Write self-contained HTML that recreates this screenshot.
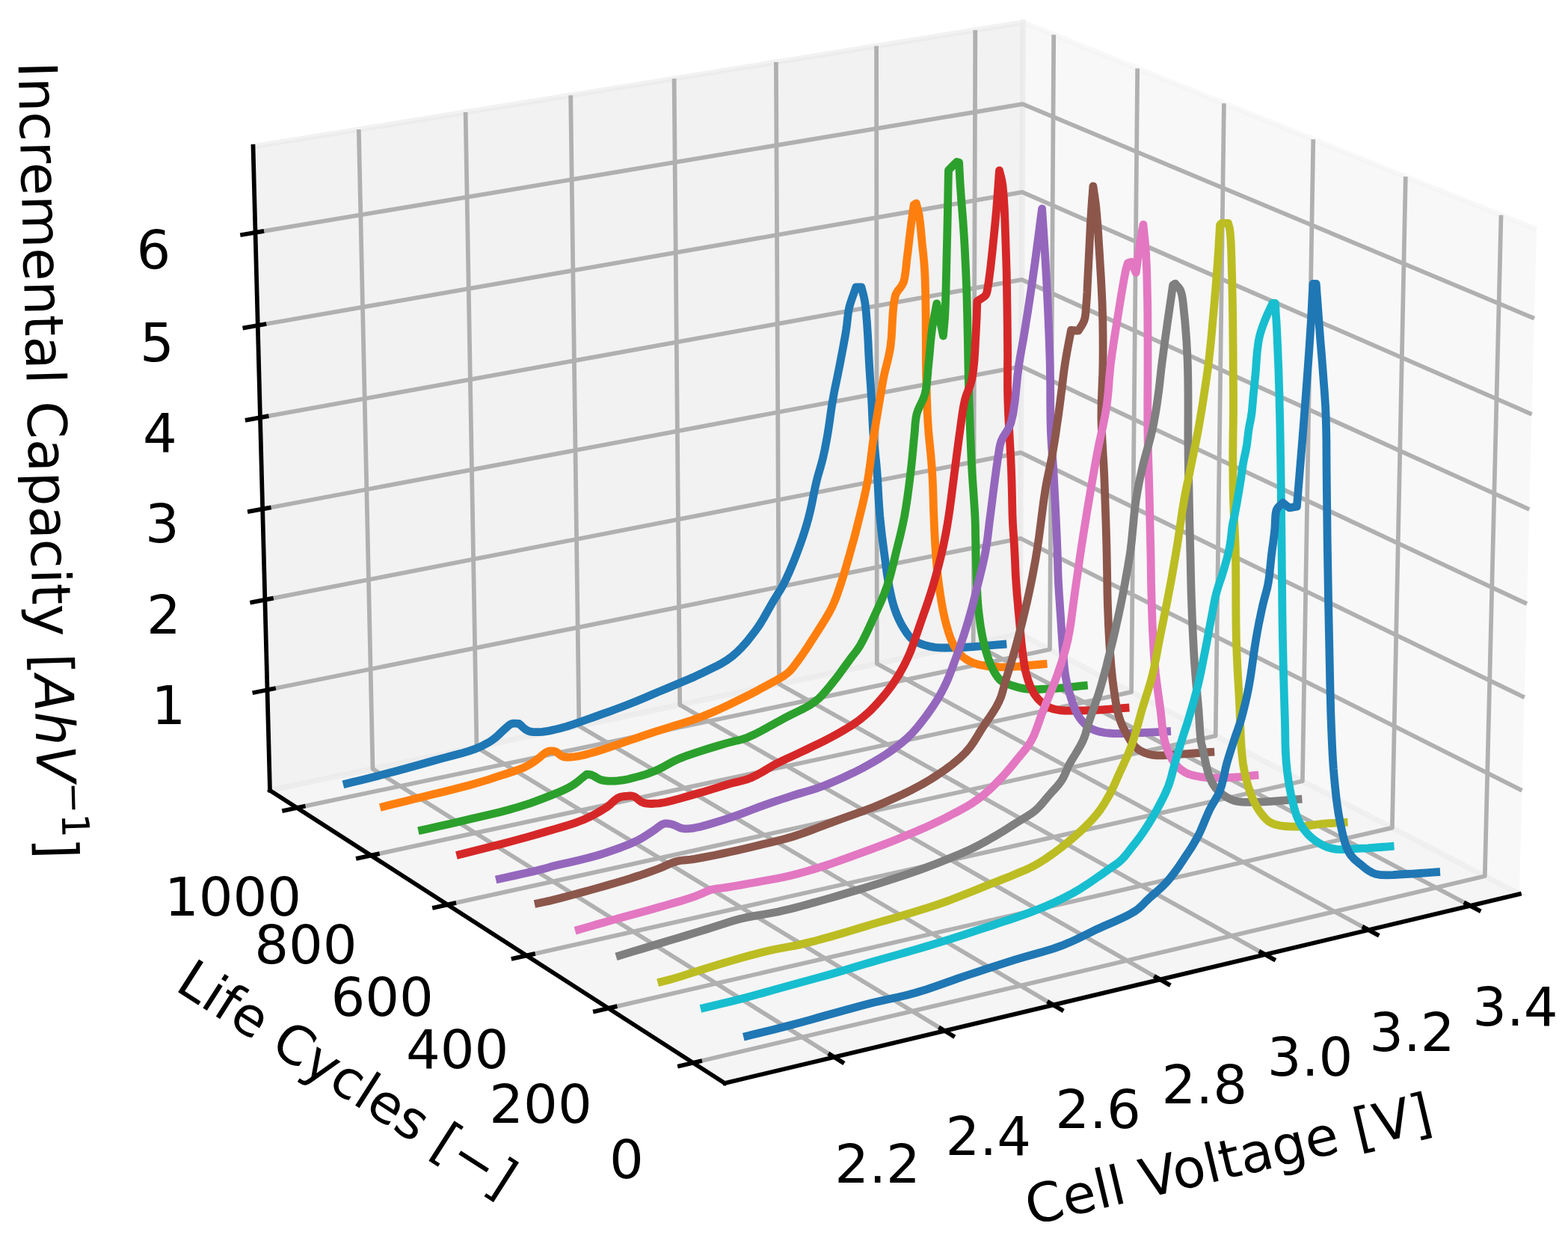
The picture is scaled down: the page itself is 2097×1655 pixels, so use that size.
<!DOCTYPE html>
<html><head><meta charset="utf-8"><title>Incremental capacity 3D plot</title>
<style>html,body{margin:0;padding:0;background:#fff;}svg{display:block;}</style></head>
<body>
<svg xmlns="http://www.w3.org/2000/svg" width="2097" height="1655" viewBox="0 0 2097 1655">
<rect width="2097" height="1655" fill="#fff"/>
<path d="M2031.9,1195.2 L1364.1,847.5 L1368.2,29.9 L2055.0,306.7" fill="rgb(242,242,242)" fill-opacity="0.5" stroke="rgb(242,242,242)" stroke-opacity="0.5" stroke-width="7.2" stroke-linejoin="miter"/>
<path d="M361.0,1056.6 L1364.1,847.5 L1368.2,29.9 L338.5,195.8" fill="rgb(230,230,230)" fill-opacity="0.5" stroke="rgb(230,230,230)" stroke-opacity="0.5" stroke-width="7.2" stroke-linejoin="miter"/>
<path d="M969.3,1448.0 L2031.9,1195.2 L1364.1,847.5 L361.0,1056.6" fill="rgb(236,236,236)" fill-opacity="0.5" stroke="rgb(236,236,236)" stroke-opacity="0.5" stroke-width="7.2" stroke-linejoin="miter"/>
<g fill="none" stroke="#b0b0b0" stroke-width="5.76" stroke-linejoin="round"><polyline points="1115.6,1413.2 498.5,1027.9 479.8,173.0"/><polyline points="1263.4,1378.0 637.5,999.0 622.6,150.0"/><polyline points="1408.7,1343.4 774.4,970.4 763.2,127.4"/><polyline points="1551.5,1309.5 909.2,942.3 901.6,105.1"/><polyline points="1692.0,1276.0 1042.0,914.6 1037.9,83.1"/><polyline points="1830.2,1243.2 1172.8,887.3 1172.1,61.5"/><polyline points="1966.2,1210.8 1301.7,860.5 1304.3,40.2"/><polyline points="2007.5,287.5 1985.8,1171.2 927.1,1420.8"/><polyline points="1879.8,236.1 1861.9,1106.6 813.7,1347.9"/><polyline points="1756.3,186.3 1741.9,1044.2 704.2,1277.5"/><polyline points="1636.9,138.1 1625.7,983.7 598.4,1209.4"/><polyline points="1521.2,91.5 1513.1,925.1 496.1,1143.6"/><polyline points="1409.2,46.4 1404.0,868.2 397.2,1079.9"/><polyline points="357.5,922.3 1364.8,719.7 2035.5,1056.7"/><polyline points="354.3,801.9 1365.3,605.2 2038.8,932.4"/><polyline points="351.2,680.5 1365.9,489.9 2042.0,807.2"/><polyline points="348.0,558.2 1366.5,373.8 2045.3,681.0"/><polyline points="344.7,435.0 1367.1,256.9 2048.6,553.8"/><polyline points="341.5,310.9 1367.7,139.1 2051.9,425.6"/></g>
<g fill="none" stroke="#000" stroke-width="5.76" stroke-linecap="square"><polyline points="969.3,1448.0 2031.9,1195.2"/><polyline points="361.0,1056.6 969.3,1448.0"/><polyline points="361.0,1056.6 338.5,195.8"/><polyline points="1126.5,1420.0 1110.2,1409.8"/><polyline points="1274.4,1384.7 1257.9,1374.7"/><polyline points="1419.8,1350.0 1403.1,1340.2"/><polyline points="1562.8,1315.9 1545.9,1306.2"/><polyline points="1703.4,1282.4 1686.3,1272.9"/><polyline points="1841.8,1249.4 1824.4,1240.0"/><polyline points="1977.8,1217.0 1960.3,1207.7"/><polyline points="909.0,1425.1 936.1,1418.7"/><polyline points="795.9,1352.0 822.6,1345.8"/><polyline points="686.6,1281.4 713.0,1275.5"/><polyline points="581.0,1213.2 607.2,1207.5"/><polyline points="478.9,1147.3 504.8,1141.7"/><polyline points="380.1,1083.5 405.7,1078.1"/><polyline points="340.4,925.7 366.0,920.6"/><polyline points="337.2,805.2 362.9,800.2"/><polyline points="333.9,683.7 359.7,678.9"/><polyline points="330.7,561.4 356.6,556.7"/><polyline points="327.4,438.1 353.4,433.5"/><polyline points="324.1,313.8 350.2,309.4"/></g>
<g fill="none" stroke-width="10.8" stroke-linejoin="round" stroke-linecap="butt"><polyline points="458.9,1048.8 470.8,1045.8 482.7,1042.9 494.6,1039.9 506.5,1036.9 518.5,1033.8 531.1,1030.5 543.8,1027.0 556.5,1023.5 569.1,1020.0 581.4,1016.5 593.0,1013.4 604.8,1010.3 616.3,1007.3 627.0,1004.1 636.4,1000.8 641.9,998.5 646.9,996.1 651.5,993.6 655.8,991.1 659.9,988.3 663.4,985.5 666.7,982.5 669.8,979.5 672.8,976.6 675.6,974.1 677.5,972.5 679.2,970.9 680.9,969.5 682.7,968.3 684.5,967.5 686.3,967.1 688.2,967.1 690.1,967.2 692.1,967.4 694.0,967.5 696.4,969.5 698.7,971.7 701.1,973.8 703.5,975.6 706.1,977.0 708.7,977.9 711.3,978.4 714.0,978.7 716.9,978.7 720.0,978.7 725.0,978.4 730.4,977.7 736.2,976.6 742.2,975.3 748.5,973.8 757.2,971.4 766.6,968.4 776.2,965.0 786.0,961.5 795.6,958.1 805.1,954.7 814.7,951.3 824.3,947.8 833.7,944.3 842.7,940.8 850.3,937.7 857.5,934.7 864.7,931.7 872.1,928.5 880.0,925.1 891.3,920.4 903.7,915.3 916.3,910.1 928.7,904.7 940.0,899.4 948.6,895.2 956.8,891.2 964.6,887.1 972.0,882.6 979.2,877.4 986.2,871.3 992.7,864.7 999.0,857.6 1004.9,850.2 1010.6,842.8 1015.9,835.1 1020.9,827.0 1025.5,818.8 1030.0,810.9 1034.2,803.6 1037.3,798.6 1040.1,794.1 1042.9,789.7 1045.6,785.1 1048.4,780.0 1052.1,772.3 1055.9,763.9 1059.6,755.1 1063.3,746.0 1066.7,737.1 1070.0,728.1 1073.2,719.0 1076.2,709.8 1079.0,700.6 1081.6,691.3 1083.9,681.8 1086.0,672.1 1087.9,662.4 1089.8,653.0 1091.8,644.2 1093.5,637.5 1095.3,631.2 1097.1,625.1 1098.8,619.0 1100.4,612.8 1101.8,606.6 1103.1,600.6 1104.3,594.4 1105.5,588.1 1106.7,581.4 1108.1,572.6 1109.5,563.2 1110.8,553.6 1112.2,543.9 1113.8,534.3 1115.5,524.9 1117.4,515.4 1119.4,506.0 1121.3,496.5 1123.2,487.1 1125.0,477.5 1126.9,467.7 1128.7,458.0 1130.4,448.6 1131.8,440.0 1132.6,433.9 1133.2,428.3 1133.8,422.8 1134.5,417.4 1135.5,412.0 1137.0,406.4 1138.8,400.8 1140.8,395.2 1142.8,389.6 1144.7,384.0 1152.0,384.0 1153.0,387.9 1154.0,391.7 1155.0,395.6 1155.9,399.6 1156.7,404.0 1157.6,410.4 1158.3,417.4 1158.9,424.7 1159.5,432.3 1160.0,440.0 1160.6,449.0 1161.1,458.4 1161.5,468.0 1162.0,477.6 1162.5,487.1 1163.1,496.5 1163.7,506.0 1164.4,515.4 1165.0,524.9 1165.6,534.3 1166.1,543.7 1166.5,553.1 1166.9,562.6 1167.4,572.0 1168.0,581.4 1168.8,590.7 1169.8,599.9 1170.8,609.2 1171.8,618.7 1172.7,628.5 1173.6,640.4 1174.3,652.9 1175.0,665.6 1175.8,678.1 1176.7,690.0 1177.7,699.8 1178.7,709.3 1179.8,718.6 1181.0,727.8 1182.2,737.1 1183.5,746.7 1184.8,756.5 1186.1,766.1 1187.6,775.5 1189.2,784.3 1190.6,791.1 1192.0,797.6 1193.5,803.9 1195.2,809.9 1197.1,815.7 1199.0,820.8 1201.1,825.7 1203.3,830.4 1205.6,835.0 1208.1,839.2 1210.3,842.7 1212.5,846.1 1214.9,849.3 1217.5,852.3 1220.6,854.9 1224.6,857.5 1229.1,859.7 1234.0,861.6 1239.0,863.1 1244.2,864.4 1249.9,865.4 1255.8,865.9 1261.9,866.0 1268.4,866.0 1275.6,865.9 1287.9,865.5 1301.8,864.6 1316.7,863.4 1331.7,862.1 1346.3,861.0" stroke="#1f77b4"/><polyline points="508.3,1079.4 519.7,1076.6 531.1,1073.8 542.6,1070.9 554.1,1068.1 565.7,1065.2 578.3,1062.1 591.3,1059.0 604.2,1055.8 616.7,1052.6 628.5,1049.5 637.5,1046.9 646.0,1044.4 654.3,1041.8 662.2,1039.2 670.0,1036.7 676.8,1034.5 683.5,1032.4 689.9,1030.2 695.9,1028.0 701.4,1025.7 705.0,1023.9 708.2,1022.1 711.2,1020.2 714.1,1018.2 717.1,1016.2 720.3,1013.8 723.5,1011.0 726.7,1008.3 729.8,1006.0 732.8,1004.5 734.8,1004.0 736.6,1003.8 738.5,1003.8 740.3,1004.0 742.2,1004.5 744.4,1005.5 746.5,1007.1 748.6,1008.8 750.8,1010.4 753.2,1011.5 756.0,1012.1 759.0,1012.3 762.2,1012.2 765.5,1011.9 768.9,1011.5 773.7,1010.8 778.8,1009.7 784.1,1008.4 789.7,1006.9 795.6,1005.2 804.3,1002.6 813.9,999.4 823.8,996.0 833.5,992.6 842.7,989.5 849.8,987.1 856.4,984.9 862.9,982.7 869.6,980.4 877.1,977.9 888.6,974.3 901.2,970.4 914.3,966.4 927.5,962.1 940.0,957.5 951.6,952.8 963.2,947.6 974.5,942.4 985.1,937.2 994.9,932.4 1001.4,929.2 1007.3,926.1 1013.0,923.1 1018.5,920.0 1024.2,916.9 1030.2,913.7 1036.4,910.4 1042.5,907.0 1048.1,903.6 1053.0,900.0 1056.1,897.2 1058.7,894.5 1061.0,891.6 1063.4,888.5 1066.0,885.0 1070.3,879.1 1074.9,872.5 1079.7,865.4 1084.5,858.0 1089.2,850.7 1094.1,843.0 1099.2,835.0 1104.2,827.0 1108.8,819.0 1112.8,811.4 1115.5,805.4 1117.8,799.8 1119.9,794.1 1121.9,788.3 1124.0,782.0 1126.7,773.6 1129.5,764.6 1132.2,755.4 1134.9,746.1 1137.4,737.1 1139.6,729.0 1141.8,721.2 1143.9,713.4 1145.9,705.4 1148.0,697.0 1150.5,687.0 1153.0,676.7 1155.5,666.0 1157.9,655.2 1160.1,644.2 1162.1,631.9 1163.9,619.1 1165.5,606.1 1167.1,593.5 1168.8,581.4 1170.4,571.4 1172.0,561.6 1173.6,552.1 1175.1,543.0 1176.6,534.3 1177.7,527.6 1178.8,521.4 1179.8,515.3 1180.9,509.2 1182.1,502.8 1183.7,495.6 1185.5,488.5 1187.4,481.2 1189.1,473.4 1190.7,465.0 1192.2,451.4 1193.1,435.7 1194.0,419.7 1195.3,405.4 1197.5,394.8 1199.0,391.4 1200.8,388.7 1202.6,386.4 1204.3,384.3 1205.7,382.2 1206.5,380.9 1207.1,379.8 1207.7,378.7 1208.3,377.5 1208.8,375.9 1209.9,370.8 1210.9,364.2 1211.8,356.7 1212.6,348.9 1213.5,341.4 1214.5,333.6 1215.4,325.6 1216.3,317.5 1217.3,309.6 1218.2,302.1 1219.0,296.1 1219.8,290.4 1220.6,284.9 1221.4,279.4 1222.2,273.8 1225.3,271.8 1226.1,274.9 1226.9,277.9 1227.7,281.0 1228.5,284.3 1229.2,288.0 1230.2,294.6 1231.0,302.1 1231.8,310.1 1232.5,318.1 1233.2,325.7 1233.9,332.1 1234.6,338.2 1235.2,344.2 1235.8,350.5 1236.3,357.1 1236.8,365.6 1237.2,374.4 1237.4,383.7 1237.7,393.5 1237.9,404.2 1238.1,422.0 1238.2,442.1 1238.3,463.2 1238.4,483.9 1238.7,502.8 1239.0,516.3 1239.4,529.0 1239.8,541.2 1240.3,553.4 1241.0,565.7 1241.9,578.3 1243.1,590.9 1244.4,603.4 1245.5,616.0 1246.5,628.5 1247.2,641.0 1247.7,653.5 1248.1,666.0 1248.4,678.2 1248.9,690.0 1249.3,699.8 1249.7,709.3 1250.2,718.6 1250.7,727.8 1251.3,737.1 1252.0,746.5 1252.8,756.0 1253.7,765.4 1254.8,774.9 1256.0,784.3 1257.4,793.9 1258.9,803.7 1260.6,813.3 1262.5,822.6 1264.6,831.4 1266.5,838.3 1268.5,845.1 1270.6,851.5 1273.0,857.4 1275.6,862.8 1277.8,866.5 1280.1,869.9 1282.6,873.0 1285.3,875.9 1288.2,878.5 1291.5,880.9 1295.0,883.0 1298.8,884.9 1302.8,886.5 1307.0,887.9 1312.5,889.3 1318.4,890.3 1324.7,891.1 1331.4,891.5 1338.5,891.8 1349.6,891.7 1361.8,890.9 1374.7,889.7 1387.8,888.5 1400.5,887.4" stroke="#ff7f0e"/><polyline points="559.4,1110.8 573.3,1107.7 587.2,1104.6 601.1,1101.4 614.9,1098.3 628.5,1095.1 641.5,1092.0 654.5,1089.0 667.3,1085.9 679.7,1082.7 691.3,1079.4 700.3,1076.6 708.9,1073.8 717.1,1070.9 725.1,1067.9 732.8,1064.9 739.5,1062.2 746.1,1059.6 752.5,1056.8 758.5,1053.9 764.2,1050.8 768.7,1047.9 772.8,1044.8 776.7,1041.5 780.6,1038.3 784.6,1035.1 785.8,1035.2 787.0,1035.3 788.2,1035.4 789.5,1035.6 790.9,1035.9 793.3,1036.9 796.0,1038.5 798.8,1040.2 801.8,1041.8 805.0,1042.9 809.0,1043.7 813.2,1044.1 817.7,1044.2 822.3,1044.1 827.0,1043.7 833.1,1042.9 839.5,1041.7 846.1,1040.1 852.5,1038.4 858.5,1036.7 863.1,1035.3 867.3,1033.9 871.5,1032.3 875.6,1030.7 880.0,1028.8 885.3,1026.2 890.6,1023.3 896.0,1020.2 901.9,1017.1 908.5,1014.1 919.8,1009.8 933.0,1005.3 946.7,1001.0 960.0,997.0 971.4,993.6 977.7,991.9 983.3,990.6 988.7,989.4 994.1,987.9 1000.0,985.8 1009.0,981.8 1018.7,976.8 1028.7,971.3 1038.7,965.7 1048.3,960.4 1057.2,955.9 1066.2,951.5 1075.0,947.1 1083.3,942.5 1090.6,937.5 1095.8,933.1 1100.3,928.4 1104.5,923.6 1108.6,918.7 1112.8,913.5 1117.7,907.4 1122.6,900.9 1127.4,894.3 1132.0,888.0 1136.3,882.1 1139.3,878.1 1142.1,874.5 1144.8,871.0 1147.4,867.4 1150.0,863.3 1153.2,857.6 1156.3,851.5 1159.4,845.1 1162.5,838.4 1165.7,831.4 1169.8,822.6 1174.1,813.3 1178.4,803.7 1182.5,794.0 1186.1,784.3 1189.1,774.9 1191.7,765.5 1194.1,756.0 1196.4,746.6 1198.7,737.1 1201.0,727.8 1203.3,718.6 1205.5,709.3 1207.6,699.9 1209.6,690.0 1211.6,678.1 1213.5,665.6 1215.2,652.9 1216.8,640.4 1218.2,628.5 1219.3,618.5 1220.3,608.6 1221.2,599.1 1222.0,590.0 1222.9,581.4 1223.4,575.3 1223.8,569.5 1224.3,563.9 1225.0,558.5 1226.1,553.1 1227.9,547.7 1230.2,542.6 1232.8,537.4 1235.2,532.1 1237.1,526.4 1238.6,519.2 1239.6,511.5 1240.4,503.5 1241.0,495.3 1241.8,487.1 1242.7,477.8 1243.6,468.2 1244.4,458.5 1245.4,449.0 1246.5,440.0 1247.6,432.8 1248.9,425.9 1250.2,419.2 1251.5,412.5 1252.8,405.8 1261.4,449.0 1261.9,443.4 1262.4,438.0 1262.9,432.6 1263.4,426.6 1263.8,419.9 1264.4,406.9 1264.9,392.0 1265.3,375.7 1265.7,358.6 1266.1,341.4 1266.6,320.0 1267.1,297.4 1267.6,274.1 1268.0,250.6 1268.5,227.5 1279.5,216.5 1282.6,217.3 1282.9,223.1 1283.2,228.7 1283.5,234.4 1283.8,240.4 1284.2,247.1 1285.0,258.2 1285.9,270.6 1287.0,283.7 1288.0,297.0 1288.9,310.0 1289.7,322.7 1290.4,335.5 1291.0,348.3 1291.6,360.8 1292.1,372.8 1292.5,382.3 1292.8,391.2 1293.1,400.0 1293.3,409.4 1293.6,420.0 1294.0,439.9 1294.5,462.7 1294.9,487.0 1295.4,511.4 1296.0,534.3 1296.7,554.0 1297.4,573.6 1298.2,592.7 1299.0,611.1 1299.9,628.5 1300.7,641.6 1301.6,654.0 1302.4,666.0 1303.2,677.9 1303.9,690.0 1304.4,702.5 1304.6,715.1 1304.9,727.6 1305.1,740.2 1305.5,752.8 1305.9,765.5 1306.3,778.4 1306.8,791.2 1307.5,803.7 1308.6,815.7 1309.8,825.7 1311.1,835.6 1312.7,845.0 1314.5,854.2 1316.5,862.8 1318.4,869.7 1320.4,876.5 1322.6,882.9 1325.0,888.8 1327.5,894.2 1329.5,898.0 1331.7,901.6 1333.9,904.8 1336.2,907.6 1338.5,909.9 1340.0,911.0 1341.4,911.8 1342.8,912.5 1344.4,913.1 1346.3,913.8 1350.3,915.3 1355.1,916.9 1360.4,918.5 1365.9,919.9 1371.4,920.9 1377.3,921.5 1383.3,921.6 1389.5,921.5 1396.0,921.2 1402.8,920.9 1412.4,920.3 1422.6,919.4 1433.3,918.3 1444.1,917.1 1454.7,916.1" stroke="#2ca02c"/><polyline points="610.4,1143.5 622.3,1140.5 634.2,1137.6 646.1,1134.6 658.0,1131.6 670.0,1128.5 682.6,1125.1 695.5,1121.6 708.3,1118.1 720.8,1114.5 732.8,1111.0 742.8,1108.1 752.7,1105.2 762.2,1102.4 771.3,1099.3 779.9,1096.0 786.9,1092.9 793.6,1089.5 800.0,1086.0 805.9,1082.5 811.3,1079.1 814.9,1076.4 818.1,1073.5 821.1,1070.7 824.0,1068.3 827.0,1066.5 829.3,1065.6 831.5,1065.1 833.7,1064.7 835.9,1064.5 838.0,1064.3 839.9,1064.1 841.8,1064.0 843.7,1064.0 845.6,1064.1 847.5,1064.6 849.9,1065.8 852.2,1067.7 854.6,1069.7 857.2,1071.6 860.0,1073.0 863.7,1073.9 867.7,1074.4 871.9,1074.5 876.5,1074.2 881.4,1073.8 889.7,1072.5 899.0,1070.3 908.8,1067.6 918.8,1064.8 928.5,1062.0 938.1,1059.3 947.9,1056.3 957.6,1053.3 966.9,1050.5 975.6,1047.9 981.7,1046.3 987.3,1044.9 992.8,1043.6 998.2,1042.1 1003.9,1040.0 1010.9,1036.7 1018.1,1032.8 1025.3,1028.5 1032.6,1024.1 1040.0,1020.1 1047.6,1016.4 1055.2,1012.8 1062.9,1009.3 1070.7,1005.7 1078.5,1002.0 1086.8,997.9 1095.4,993.8 1103.9,989.6 1112.2,985.3 1120.0,981.0 1126.5,977.3 1132.7,973.6 1138.7,969.9 1144.4,966.1 1150.0,962.0 1155.0,957.9 1159.8,953.7 1164.5,949.4 1169.0,944.8 1173.5,940.0 1178.4,934.4 1183.4,928.5 1188.2,922.4 1192.8,916.2 1197.1,909.9 1200.9,903.9 1204.5,897.9 1207.9,891.7 1211.2,885.3 1214.4,878.5 1218.1,869.8 1221.6,860.4 1225.0,850.8 1228.3,841.0 1231.6,831.4 1234.9,822.0 1238.2,812.6 1241.4,803.2 1244.5,793.8 1247.4,784.3 1250.2,774.9 1252.8,765.3 1255.3,755.8 1257.7,746.4 1259.9,737.1 1261.8,728.7 1263.4,720.7 1265.0,712.6 1266.5,704.2 1268.0,695.0 1270.1,681.2 1272.1,666.0 1274.1,650.2 1276.1,634.8 1277.9,620.7 1279.2,610.5 1280.5,600.8 1281.7,591.5 1282.9,582.5 1284.2,573.5 1285.3,565.3 1286.4,557.2 1287.6,549.3 1288.9,541.6 1290.5,534.3 1292.2,528.5 1294.3,523.2 1296.4,518.0 1298.3,512.4 1300.0,506.0 1301.8,494.3 1303.1,480.8 1304.0,466.4 1304.7,452.5 1305.4,440.0 1305.8,431.8 1306.2,424.3 1306.4,417.1 1306.6,409.9 1306.9,402.6 1309.3,401.1 1311.8,399.5 1314.2,398.0 1316.4,396.4 1318.0,394.8 1318.7,393.7 1319.2,392.7 1319.6,391.6 1319.9,390.3 1320.3,388.5 1322.3,376.5 1324.7,358.0 1327.1,336.1 1329.4,313.8 1331.3,294.2 1332.6,280.2 1333.6,266.8 1334.6,253.8 1335.5,240.9 1336.5,227.8 1337.4,231.4 1338.3,234.8 1339.2,238.3 1340.0,242.3 1340.8,247.1 1342.2,261.2 1343.3,279.1 1344.1,299.5 1344.8,320.7 1345.5,341.4 1346.2,364.7 1346.6,389.2 1347.0,413.9 1347.3,437.8 1347.5,460.0 1347.6,475.8 1347.5,490.5 1347.5,504.8 1347.5,519.2 1347.8,534.3 1348.5,552.6 1349.5,571.8 1350.6,591.2 1351.7,610.3 1352.5,628.5 1353.0,643.9 1353.4,659.3 1353.7,674.1 1354.0,687.8 1354.5,700.0 1354.9,706.7 1355.3,712.6 1355.7,718.1 1356.1,723.8 1356.5,730.0 1356.9,738.7 1357.4,748.1 1357.8,757.8 1358.2,767.5 1358.8,777.1 1359.5,786.5 1360.2,796.0 1361.1,805.4 1361.9,814.9 1362.8,824.3 1363.7,833.9 1364.5,843.6 1365.4,853.3 1366.4,862.6 1367.5,871.4 1368.4,878.2 1369.3,884.7 1370.3,890.9 1371.5,897.0 1373.0,902.8 1374.5,907.9 1376.2,912.9 1378.0,917.7 1380.1,922.2 1382.4,926.4 1384.6,929.7 1387.0,932.8 1389.5,935.6 1392.2,938.2 1395.0,940.5 1397.8,942.5 1400.6,944.3 1403.6,945.8 1407.0,947.2 1410.7,948.3 1417.2,949.5 1424.7,950.0 1432.8,950.1 1441.3,950.0 1450.0,949.9 1461.3,949.5 1473.2,948.8 1485.6,947.9 1498.1,946.9 1510.4,946.0" stroke="#d62728"/><polyline points="663.1,1176.0 675.6,1173.2 688.7,1170.4 701.5,1167.5 713.2,1164.9 722.8,1162.6 726.7,1161.6 729.9,1160.7 732.9,1159.8 736.1,1158.9 740.0,1157.8 749.6,1155.5 761.3,1152.9 774.1,1150.0 787.0,1146.8 799.0,1143.5 809.8,1140.1 820.7,1136.4 831.3,1132.6 841.2,1128.7 850.0,1124.8 855.5,1122.0 860.5,1119.1 865.0,1116.2 869.4,1113.4 873.5,1110.7 876.6,1108.5 879.5,1106.3 882.2,1104.2 885.0,1102.4 887.7,1101.3 889.9,1100.9 892.1,1100.9 894.2,1101.1 896.4,1101.5 898.7,1102.0 901.4,1102.9 904.2,1104.1 907.0,1105.5 909.9,1106.7 912.8,1107.5 915.7,1107.8 918.6,1107.9 921.6,1107.7 924.8,1107.4 928.5,1106.8 936.3,1105.2 945.6,1102.7 955.6,1099.8 965.8,1096.6 975.6,1093.4 985.2,1090.1 994.8,1086.6 1004.3,1083.0 1013.7,1079.4 1022.8,1076.1 1030.5,1073.4 1037.9,1070.9 1045.1,1068.5 1052.5,1066.1 1060.0,1063.6 1068.3,1061.0 1076.6,1058.6 1085.0,1056.1 1093.8,1053.3 1102.8,1050.0 1114.9,1045.0 1127.7,1039.4 1140.9,1033.2 1153.7,1026.7 1165.7,1020.1 1176.0,1014.0 1185.9,1007.7 1195.4,1001.2 1204.4,994.3 1212.8,987.1 1220.0,980.0 1226.7,972.5 1232.9,964.7 1238.8,957.0 1244.2,949.4 1248.5,943.1 1252.5,936.9 1256.2,930.7 1259.7,924.4 1263.1,917.8 1266.6,910.4 1269.8,902.7 1272.8,894.8 1275.8,886.7 1278.8,878.5 1282.1,869.4 1285.3,860.0 1288.5,850.5 1291.6,840.9 1294.5,831.4 1297.2,822.0 1299.8,812.6 1302.3,803.2 1304.6,793.7 1307.0,784.3 1309.4,774.9 1311.7,765.5 1314.0,756.0 1316.1,746.6 1318.0,737.1 1319.5,727.9 1320.8,718.8 1321.9,709.7 1323.0,700.2 1324.3,690.0 1326.2,675.1 1328.3,658.3 1330.5,641.4 1332.6,625.7 1334.5,612.8 1335.4,607.2 1336.1,602.3 1336.8,597.9 1337.8,593.6 1339.2,589.2 1341.3,584.7 1343.9,580.5 1346.7,576.2 1349.4,571.4 1351.8,565.7 1354.9,552.7 1357.2,536.6 1359.1,519.1 1360.8,502.0 1362.7,487.1 1364.2,478.0 1365.6,469.9 1367.0,462.1 1368.5,454.0 1370.0,445.0 1372.1,431.7 1374.4,417.4 1376.7,402.4 1379.0,387.0 1381.3,371.4 1383.8,353.6 1386.2,335.2 1388.7,316.5 1391.1,297.6 1393.6,279.0 1394.8,297.3 1396.0,315.5 1397.2,333.7 1398.3,352.3 1399.4,371.4 1400.5,393.6 1401.6,416.6 1402.6,440.0 1403.5,463.0 1404.2,485.0 1404.5,503.8 1404.7,522.2 1404.7,540.2 1404.9,557.6 1405.3,574.3 1405.9,587.3 1406.7,599.6 1407.6,611.5 1408.5,623.8 1409.3,637.1 1410.3,655.9 1411.4,676.7 1412.4,697.7 1413.3,717.7 1414.0,735.0 1414.3,744.5 1414.6,753.0 1414.8,760.9 1415.0,768.8 1415.4,777.1 1415.9,786.4 1416.5,795.8 1417.2,805.3 1417.8,814.8 1418.5,824.3 1419.1,833.9 1419.7,843.6 1420.4,853.3 1421.0,862.6 1421.7,871.4 1422.2,878.1 1422.7,884.4 1423.2,890.6 1423.9,896.6 1424.8,902.8 1426.0,909.2 1427.4,915.6 1429.0,922.0 1430.8,928.2 1432.7,934.2 1434.6,939.6 1436.5,945.0 1438.6,950.2 1441.0,955.1 1443.7,959.5 1446.4,963.0 1449.3,966.2 1452.5,969.2 1455.8,971.8 1459.4,974.0 1463.3,975.9 1467.4,977.3 1471.7,978.4 1476.3,979.3 1481.4,980.0 1489.7,980.6 1499.2,980.7 1509.2,980.3 1519.1,979.9 1528.5,979.5 1536.3,979.2 1543.8,978.8 1551.2,978.4 1558.6,977.9 1566.0,977.5" stroke="#9467bd"/><polyline points="714.9,1208.5 719.7,1207.5 724.4,1206.5 729.2,1205.5 734.3,1204.4 740.0,1203.0 750.9,1200.2 763.5,1196.9 777.0,1193.3 790.4,1189.6 802.8,1186.1 812.8,1183.2 822.7,1180.4 832.2,1177.6 841.3,1174.8 850.0,1172.0 856.8,1169.8 863.3,1167.6 869.5,1165.4 875.5,1163.2 881.4,1161.0 886.3,1159.0 891.0,1156.9 895.6,1154.8 900.2,1153.0 904.9,1151.5 909.4,1150.5 913.9,1150.0 918.5,1149.6 923.3,1149.1 928.5,1148.4 936.9,1146.9 946.2,1145.1 956.0,1143.2 965.9,1141.1 975.6,1139.0 985.1,1136.9 994.8,1134.7 1004.3,1132.5 1013.7,1130.2 1022.8,1128.0 1030.4,1126.2 1037.6,1124.5 1044.8,1122.7 1052.1,1120.8 1060.0,1118.5 1070.9,1114.9 1082.4,1110.8 1094.4,1106.3 1106.5,1101.6 1118.5,1097.1 1131.0,1092.6 1143.6,1088.1 1156.2,1083.5 1168.9,1078.7 1181.4,1073.5 1194.3,1067.8 1207.2,1061.9 1220.0,1055.6 1232.4,1049.0 1244.2,1042.1 1254.6,1035.4 1264.8,1028.4 1274.4,1021.2 1283.4,1013.7 1291.3,1006.0 1297.0,999.3 1301.9,992.4 1306.3,985.4 1310.5,978.4 1314.9,971.4 1319.4,964.7 1324.0,958.1 1328.4,951.5 1332.5,944.8 1336.0,938.0 1338.6,931.8 1340.6,925.6 1342.3,919.3 1344.1,912.8 1346.0,906.0 1348.7,897.3 1351.5,888.3 1354.3,878.8 1357.2,869.1 1360.0,859.0 1363.3,846.4 1366.7,833.2 1370.0,819.5 1373.2,806.0 1376.1,792.8 1378.6,781.2 1380.8,769.9 1382.9,758.7 1385.0,747.2 1387.0,735.0 1389.4,719.1 1391.6,702.1 1393.8,684.7 1396.0,668.0 1398.3,652.8 1400.2,642.6 1402.1,633.3 1404.0,624.4 1405.9,615.4 1407.7,605.7 1409.7,593.7 1411.7,581.1 1413.5,568.2 1415.4,555.4 1417.1,542.8 1418.6,531.0 1420.1,519.1 1421.5,507.4 1422.9,496.0 1424.5,485.0 1426.0,475.9 1427.6,467.1 1429.2,458.5 1430.9,449.9 1432.5,441.3 1442.3,442.1 1443.9,439.3 1445.7,436.5 1447.4,433.8 1448.9,430.9 1450.1,427.9 1451.0,424.8 1451.5,421.6 1451.9,418.4 1452.1,414.7 1452.5,410.6 1453.2,401.7 1453.9,391.0 1454.4,379.4 1455.0,367.4 1455.6,355.7 1456.2,343.2 1456.9,330.3 1457.5,317.4 1458.1,304.7 1458.8,292.8 1459.4,283.5 1460.0,274.7 1460.6,266.1 1461.3,257.6 1461.9,248.9 1462.7,254.4 1463.5,259.6 1464.3,265.0 1465.1,270.7 1465.8,277.1 1466.8,288.0 1467.8,300.1 1468.8,313.1 1469.6,326.6 1470.5,340.0 1471.4,355.2 1472.4,371.1 1473.2,387.1 1474.0,403.1 1474.5,418.5 1474.8,432.1 1475.0,445.3 1475.1,458.4 1475.1,471.6 1475.0,485.0 1474.7,499.4 1474.1,514.0 1473.5,528.7 1473.0,543.6 1472.9,558.5 1473.3,573.9 1474.1,589.3 1475.0,604.9 1476.0,620.8 1476.8,637.1 1477.5,656.2 1478.2,676.2 1478.9,696.3 1479.5,716.1 1480.0,735.0 1480.3,750.5 1480.6,765.4 1480.8,780.0 1481.0,794.3 1481.4,808.5 1481.9,821.5 1482.4,834.5 1483.0,847.1 1483.7,859.5 1484.5,871.4 1485.3,881.3 1486.1,890.9 1487.0,900.3 1488.0,909.5 1489.2,918.5 1490.4,926.8 1491.6,935.2 1493.0,943.3 1494.6,951.0 1496.5,958.0 1498.1,962.9 1499.8,967.4 1501.7,971.7 1503.8,975.9 1506.0,980.0 1508.4,984.3 1510.9,988.7 1513.7,992.9 1516.7,996.7 1520.0,1000.0 1523.5,1002.6 1527.2,1004.7 1531.2,1006.5 1535.5,1008.0 1540.1,1009.1 1547.1,1009.9 1554.9,1009.9 1563.3,1009.4 1571.7,1008.7 1580.1,1008.1 1588.8,1007.6 1597.6,1007.0 1606.5,1006.4 1615.3,1005.7 1624.2,1005.1" stroke="#8c564b"/><polyline points="769.1,1244.2 778.9,1241.4 788.6,1238.6 798.3,1235.8 808.2,1233.0 818.5,1230.1 830.7,1226.7 843.6,1223.2 856.5,1219.7 869.3,1216.2 881.4,1212.8 891.5,1209.9 901.5,1207.0 911.2,1204.2 920.3,1201.4 928.5,1198.7 933.8,1196.6 938.8,1194.5 943.4,1192.4 947.8,1190.6 952.1,1189.2 955.3,1188.5 958.2,1188.0 961.1,1187.7 964.2,1187.4 967.8,1186.9 974.6,1185.8 982.4,1184.5 990.7,1183.1 999.4,1181.5 1008.0,1180.0 1017.5,1178.3 1027.4,1176.5 1037.3,1174.7 1047.3,1172.7 1057.1,1170.5 1067.1,1168.0 1077.4,1165.1 1087.4,1162.2 1096.6,1159.4 1104.2,1157.0 1107.4,1156.0 1110.0,1155.1 1112.4,1154.3 1115.0,1153.3 1118.5,1152.1 1130.5,1147.8 1146.3,1142.1 1164.2,1135.6 1182.1,1128.9 1198.5,1122.5 1211.7,1117.1 1224.6,1111.7 1237.1,1106.3 1249.3,1100.7 1261.0,1095.0 1271.2,1089.8 1281.2,1084.6 1290.9,1079.3 1300.0,1073.8 1308.5,1068.0 1315.3,1062.8 1321.5,1057.3 1327.5,1051.7 1333.1,1046.1 1338.5,1040.5 1343.2,1035.5 1347.6,1030.5 1351.8,1025.5 1355.9,1020.5 1360.0,1015.4 1364.1,1010.5 1368.1,1005.7 1372.1,1000.8 1375.8,995.6 1379.3,990.0 1382.9,982.8 1386.0,974.9 1389.0,966.7 1391.9,958.3 1395.0,949.9 1398.7,940.7 1402.6,931.4 1406.5,921.9 1410.3,912.3 1413.8,902.8 1417.0,893.5 1420.1,884.4 1422.9,875.1 1425.6,865.6 1428.0,855.7 1430.3,843.7 1432.3,831.2 1434.0,818.3 1435.7,805.4 1437.4,792.8 1439.1,780.8 1440.8,768.9 1442.5,757.0 1444.2,745.1 1446.0,733.0 1448.0,720.2 1450.0,707.3 1452.1,694.3 1454.2,681.4 1456.4,668.5 1458.5,655.9 1460.7,643.3 1462.9,630.8 1465.1,618.2 1467.4,605.7 1469.9,593.1 1472.7,580.4 1475.4,567.8 1477.9,555.2 1480.0,542.8 1481.4,531.2 1482.5,519.7 1483.3,508.3 1484.3,496.8 1485.5,485.0 1487.3,471.9 1489.3,458.4 1491.4,444.9 1493.6,431.5 1495.7,418.5 1497.6,406.5 1499.6,394.2 1501.6,382.3 1503.5,371.8 1505.1,363.5 1505.8,360.6 1506.4,358.1 1507.0,356.0 1507.6,353.9 1508.2,351.7 1513.0,350.2 1519.2,364.6 1520.3,356.4 1521.4,347.9 1522.5,339.6 1523.6,331.6 1524.7,324.2 1525.6,319.0 1526.4,314.1 1527.3,309.5 1528.1,304.9 1529.0,300.2 1529.7,308.0 1530.5,315.7 1531.3,323.4 1532.0,331.5 1532.6,340.0 1533.2,351.5 1533.7,363.7 1534.0,376.4 1534.3,389.5 1534.6,402.8 1534.8,418.5 1534.9,434.7 1535.0,451.3 1535.0,468.2 1535.0,485.0 1535.0,502.6 1534.9,520.3 1534.8,538.2 1534.8,556.2 1534.9,574.3 1535.2,593.2 1535.7,612.6 1536.3,631.9 1536.8,650.7 1537.3,668.5 1537.6,682.5 1537.9,695.8 1538.2,708.7 1538.5,721.7 1538.8,735.0 1539.1,749.4 1539.3,764.0 1539.5,778.7 1539.9,793.6 1540.3,808.5 1540.8,824.2 1541.4,840.2 1542.2,856.2 1543.1,871.9 1544.2,887.1 1545.5,900.4 1547.1,913.4 1548.8,926.1 1550.5,938.4 1552.1,949.9 1553.1,958.6 1553.9,967.0 1554.8,975.1 1555.9,982.7 1557.5,990.0 1559.1,995.8 1561.0,1001.3 1563.0,1006.6 1565.4,1011.5 1568.1,1016.1 1570.8,1019.9 1573.7,1023.4 1576.9,1026.7 1580.3,1029.6 1584.1,1032.1 1588.6,1034.3 1593.6,1036.0 1598.9,1037.3 1604.4,1038.3 1610.2,1039.1 1617.7,1039.8 1625.7,1039.9 1634.0,1039.8 1642.3,1039.5 1650.2,1039.1 1657.0,1038.7 1663.7,1038.1 1670.2,1037.4 1676.7,1036.7 1683.3,1036.1" stroke="#e377c2"/><polyline points="824.0,1278.8 835.4,1275.4 846.8,1271.9 858.3,1268.5 869.8,1265.0 881.4,1261.5 893.9,1257.7 906.8,1253.8 919.6,1250.0 932.2,1246.2 944.2,1242.5 954.0,1239.4 963.5,1236.3 972.7,1233.3 981.9,1230.5 991.3,1228.0 1001.0,1225.9 1010.9,1224.1 1020.8,1222.5 1030.6,1220.8 1040.0,1219.0 1048.3,1217.1 1056.3,1215.2 1064.2,1213.2 1072.1,1211.1 1080.0,1209.0 1087.9,1206.8 1095.8,1204.6 1103.7,1202.4 1111.7,1200.1 1119.9,1197.7 1129.0,1195.0 1138.3,1192.3 1147.8,1189.5 1157.4,1186.6 1167.0,1183.6 1177.5,1180.3 1188.3,1176.8 1199.2,1173.3 1209.8,1169.8 1220.0,1166.3 1228.6,1163.3 1236.9,1160.3 1245.0,1157.2 1253.0,1154.2 1261.0,1151.0 1269.0,1147.8 1277.0,1144.5 1284.9,1141.2 1292.6,1137.8 1300.0,1134.3 1306.3,1131.2 1312.4,1128.0 1318.4,1124.7 1324.3,1121.4 1330.2,1118.0 1336.3,1114.4 1342.5,1110.6 1348.6,1106.7 1354.6,1102.9 1360.4,1099.2 1365.5,1096.1 1370.5,1093.1 1375.4,1090.1 1380.1,1087.0 1384.6,1083.5 1388.8,1079.6 1392.8,1075.3 1396.6,1070.8 1400.3,1066.3 1404.0,1062.0 1407.4,1058.2 1410.8,1054.5 1414.1,1050.8 1417.2,1047.0 1420.0,1043.0 1422.3,1039.0 1424.2,1035.0 1426.0,1030.8 1427.8,1026.5 1430.0,1022.0 1433.4,1015.9 1437.4,1009.5 1441.4,1002.9 1445.2,996.3 1448.4,990.0 1450.4,985.1 1451.9,980.5 1453.2,975.8 1454.6,971.0 1456.2,965.6 1459.0,957.2 1462.3,947.9 1465.6,938.1 1469.0,928.2 1472.0,918.5 1474.7,909.1 1477.3,899.7 1479.8,890.3 1482.1,880.8 1484.5,871.4 1486.8,862.0 1489.1,852.6 1491.3,843.2 1493.4,833.7 1495.5,824.3 1497.5,814.8 1499.5,805.3 1501.4,795.8 1503.2,786.4 1504.9,777.1 1506.4,768.7 1507.9,760.6 1509.3,752.4 1510.7,744.0 1512.0,735.0 1513.5,722.5 1514.8,708.9 1516.1,695.0 1517.5,681.3 1519.2,668.5 1520.9,658.5 1522.6,649.0 1524.5,639.8 1526.6,630.7 1528.7,621.4 1531.1,612.0 1533.7,602.6 1536.4,593.2 1538.9,583.7 1541.2,574.3 1543.1,564.9 1544.8,555.3 1546.4,545.8 1547.8,536.4 1549.1,527.1 1550.2,518.7 1551.1,510.6 1552.0,502.4 1552.9,494.0 1554.0,485.0 1555.7,472.4 1557.5,458.6 1559.5,444.5 1561.4,430.8 1563.2,418.5 1564.4,410.3 1565.5,402.7 1566.6,395.4 1567.6,388.2 1568.7,380.8 1571.9,379.2 1573.3,381.0 1574.8,382.7 1576.3,384.4 1577.7,386.3 1578.9,388.7 1580.4,393.3 1581.4,398.7 1582.2,404.9 1582.9,411.5 1583.6,418.5 1584.8,429.8 1585.8,442.2 1586.8,455.7 1587.6,470.0 1588.3,485.0 1588.8,506.8 1589.0,530.5 1589.0,555.4 1588.9,580.7 1589.1,605.7 1589.5,631.9 1590.1,658.8 1590.6,685.7 1591.2,711.4 1591.8,735.0 1592.2,751.0 1592.5,765.8 1592.8,779.9 1593.2,794.0 1593.7,808.5 1594.3,824.2 1595.0,840.2 1595.8,856.2 1596.6,871.9 1597.6,887.1 1598.6,900.4 1599.7,913.4 1600.9,926.2 1602.0,938.4 1603.0,950.0 1603.6,959.0 1604.2,967.9 1604.7,976.4 1605.3,983.9 1606.0,990.0 1606.4,992.3 1606.8,994.2 1607.2,995.9 1607.6,997.7 1608.2,1000.0 1609.6,1006.6 1611.4,1015.1 1613.4,1024.2 1615.7,1032.9 1618.2,1040.1 1619.9,1043.9 1621.6,1047.3 1623.5,1050.4 1625.6,1053.3 1628.2,1056.1 1631.8,1059.4 1635.9,1062.7 1640.5,1065.7 1645.3,1068.2 1650.2,1070.2 1655.6,1071.5 1661.3,1072.2 1667.2,1072.3 1673.5,1072.3 1680.3,1072.2 1691.1,1071.9 1703.2,1071.2 1715.9,1070.2 1728.8,1069.1 1741.4,1068.2" stroke="#7f7f7f"/><polyline points="879.6,1313.7 883.5,1312.7 887.2,1311.8 891.1,1310.8 895.2,1309.7 900.0,1308.4 910.4,1305.3 922.6,1301.4 936.0,1297.1 949.7,1292.8 962.8,1288.8 975.5,1285.1 988.3,1281.4 1001.1,1277.8 1013.7,1274.5 1025.7,1271.5 1035.5,1269.3 1045.0,1267.5 1054.3,1265.8 1063.5,1264.1 1072.8,1262.1 1082.2,1259.8 1091.7,1257.4 1101.1,1254.8 1110.5,1252.2 1119.9,1249.5 1129.4,1246.8 1138.9,1243.9 1148.3,1241.0 1157.7,1238.2 1167.0,1235.4 1175.7,1232.9 1184.1,1230.5 1192.6,1228.1 1201.2,1225.6 1210.0,1223.0 1220.2,1219.9 1230.6,1216.7 1241.2,1213.4 1251.9,1209.9 1262.8,1206.1 1275.1,1201.5 1287.9,1196.5 1300.7,1191.4 1312.9,1186.4 1324.0,1182.0 1331.3,1179.2 1338.0,1176.6 1344.4,1174.1 1350.6,1171.7 1357.0,1169.0 1363.3,1166.3 1369.5,1163.8 1375.7,1161.0 1381.9,1157.9 1388.5,1154.3 1397.7,1148.5 1407.4,1141.8 1417.3,1134.5 1426.8,1127.0 1435.6,1119.7 1442.6,1113.5 1449.4,1107.2 1455.7,1100.9 1461.6,1094.6 1467.0,1088.3 1471.0,1083.1 1474.6,1077.8 1477.9,1072.6 1481.0,1067.3 1484.0,1062.0 1486.6,1056.9 1489.0,1051.9 1491.3,1046.8 1493.6,1041.5 1496.0,1036.0 1499.2,1029.1 1502.6,1021.7 1506.0,1014.3 1509.2,1006.9 1512.0,1000.0 1513.9,994.8 1515.6,989.7 1517.1,984.8 1518.5,980.0 1520.0,975.0 1521.4,970.1 1522.7,965.3 1524.0,960.5 1525.4,955.4 1526.9,949.9 1529.5,941.4 1532.4,932.1 1535.5,922.4 1538.5,912.5 1541.1,902.8 1543.3,893.5 1545.1,884.3 1546.9,875.1 1548.6,865.6 1550.5,855.7 1552.9,843.7 1555.5,831.1 1558.1,818.2 1560.7,805.4 1563.1,792.8 1565.3,781.2 1567.4,769.7 1569.4,758.3 1571.4,746.8 1573.4,735.0 1575.5,721.8 1577.5,708.2 1579.5,694.5 1581.5,681.1 1583.6,668.5 1585.4,658.5 1587.3,649.1 1589.3,639.8 1591.2,630.7 1593.1,621.4 1595.0,612.0 1596.9,602.6 1598.9,593.2 1600.7,583.7 1602.5,574.3 1604.2,564.8 1605.8,555.3 1607.4,545.8 1608.9,536.4 1610.3,527.1 1611.6,518.7 1612.8,510.6 1614.0,502.4 1615.2,494.0 1616.3,485.0 1617.7,472.8 1619.1,459.8 1620.4,446.2 1621.6,432.4 1622.9,418.5 1624.3,402.8 1625.7,386.3 1627.0,369.8 1628.2,354.1 1629.2,340.0 1629.8,331.3 1630.2,323.3 1630.7,315.8 1631.1,308.3 1631.5,300.7 1633.9,298.3 1642.5,298.3 1643.0,300.2 1643.5,301.9 1644.0,303.7 1644.5,305.8 1644.9,308.5 1645.9,319.3 1646.6,334.2 1647.1,351.5 1647.6,369.6 1648.0,387.1 1648.4,406.3 1648.7,426.4 1648.9,446.8 1649.1,466.5 1649.2,485.0 1649.3,498.9 1649.4,512.2 1649.5,525.0 1649.5,537.5 1649.5,550.0 1649.4,561.4 1649.2,572.4 1649.0,583.4 1648.9,594.4 1648.8,605.7 1648.8,617.9 1648.9,630.3 1649.0,642.8 1649.2,655.3 1649.5,668.0 1650.0,680.9 1650.5,693.7 1651.2,706.7 1651.8,720.3 1652.3,735.0 1652.6,757.3 1652.8,782.0 1652.8,807.6 1653.0,832.7 1653.4,855.7 1654.0,872.4 1654.7,888.1 1655.5,903.4 1656.4,918.5 1657.3,934.2 1658.1,951.7 1658.7,969.9 1659.5,987.9 1660.6,1005.0 1662.3,1020.1 1663.9,1029.3 1665.7,1037.8 1667.7,1045.7 1669.9,1053.1 1672.3,1060.1 1674.4,1065.5 1676.6,1070.6 1678.9,1075.4 1681.5,1079.9 1684.3,1084.2 1687.0,1087.9 1689.9,1091.5 1693.0,1094.9 1696.4,1097.8 1700.3,1100.2 1705.4,1102.3 1711.2,1103.6 1717.4,1104.5 1723.8,1104.9 1730.3,1105.2 1738.0,1105.0 1746.1,1104.3 1754.4,1103.2 1762.6,1102.0 1770.4,1101.2 1777.0,1100.7 1783.5,1100.3 1789.8,1099.9 1796.1,1099.6 1802.5,1099.2" stroke="#bcbd22"/><polyline points="936.9,1348.5 948.3,1345.7 959.7,1343.0 971.2,1340.2 982.7,1337.4 994.3,1334.4 1006.7,1331.1 1019.2,1327.7 1031.9,1324.1 1044.5,1320.6 1057.1,1317.1 1069.8,1313.6 1082.7,1310.1 1095.4,1306.6 1107.9,1303.2 1119.9,1299.8 1129.8,1296.9 1139.3,1294.0 1148.6,1291.2 1157.8,1288.4 1167.0,1285.7 1176.0,1283.1 1184.9,1280.6 1193.9,1278.1 1202.8,1275.6 1212.0,1273.0 1221.9,1270.1 1231.9,1267.2 1242.0,1264.2 1252.3,1261.1 1262.8,1257.9 1275.0,1254.1 1287.5,1250.1 1300.2,1245.9 1313.0,1241.7 1325.7,1237.5 1338.4,1233.2 1351.3,1229.0 1364.1,1224.6 1376.6,1220.1 1388.5,1215.5 1398.5,1211.4 1408.0,1207.3 1417.3,1203.0 1426.4,1198.4 1435.6,1193.5 1445.6,1187.6 1455.8,1180.9 1465.7,1174.1 1474.9,1167.7 1482.8,1162.1 1486.9,1159.3 1490.5,1156.8 1493.9,1154.4 1497.0,1152.0 1500.0,1149.3 1502.6,1146.6 1505.0,1143.9 1507.3,1141.0 1509.6,1138.0 1512.1,1134.8 1515.5,1130.4 1519.2,1125.8 1522.9,1120.9 1526.6,1115.8 1530.2,1110.6 1534.0,1104.8 1537.7,1098.9 1541.4,1092.7 1544.9,1086.6 1548.3,1080.4 1551.5,1074.4 1554.6,1068.4 1557.6,1062.4 1560.3,1056.3 1562.8,1050.2 1564.8,1044.2 1566.6,1038.2 1568.1,1032.1 1569.7,1026.0 1571.3,1020.0 1573.1,1014.0 1574.9,1007.9 1576.7,1001.9 1578.5,995.9 1580.3,990.0 1582.0,984.6 1583.7,979.4 1585.4,974.2 1587.2,968.8 1589.0,963.0 1591.4,954.8 1594.0,946.1 1596.6,937.0 1599.1,927.7 1601.5,918.5 1603.7,909.1 1605.8,899.6 1607.7,890.1 1609.6,880.5 1611.5,871.0 1613.4,861.4 1615.2,851.7 1617.0,842.1 1618.7,832.8 1620.4,824.0 1621.7,817.3 1622.9,810.8 1624.1,804.6 1625.3,798.5 1626.8,792.5 1628.4,786.9 1630.1,781.6 1631.9,776.3 1633.8,770.9 1635.5,765.3 1637.4,759.0 1639.2,752.5 1641.1,745.9 1642.7,739.2 1644.2,732.6 1645.4,725.8 1646.3,718.6 1647.1,711.5 1647.8,705.2 1648.6,700.0 1649.0,698.0 1649.4,696.5 1649.7,695.1 1650.1,693.5 1650.6,691.4 1652.0,684.1 1653.8,674.5 1655.6,663.8 1657.4,653.3 1658.9,644.3 1659.7,639.2 1660.3,634.6 1660.9,630.2 1661.5,625.9 1662.2,621.4 1663.1,616.6 1664.1,611.7 1665.2,606.8 1666.2,601.9 1667.1,597.1 1667.8,592.5 1668.3,587.8 1668.9,583.2 1669.4,578.7 1670.0,574.3 1670.7,570.4 1671.4,566.6 1672.2,562.9 1672.9,559.1 1673.6,555.0 1674.3,549.7 1674.8,544.2 1675.3,538.4 1675.8,532.7 1676.3,527.1 1676.8,522.0 1677.3,516.9 1677.9,511.9 1678.4,506.8 1678.9,501.4 1679.5,494.5 1680.0,487.1 1680.5,479.5 1681.1,472.4 1681.8,466.0 1682.3,462.1 1682.8,458.6 1683.3,455.3 1684.0,452.0 1684.8,448.4 1686.1,443.8 1687.6,439.0 1689.4,434.2 1691.2,429.4 1693.0,424.8 1694.7,420.8 1696.5,416.9 1698.3,413.0 1700.1,409.2 1701.9,405.4 1705.4,405.4 1705.9,412.7 1706.3,419.8 1706.8,427.0 1707.3,434.5 1707.7,442.5 1708.2,453.5 1708.7,465.3 1709.2,477.5 1709.7,489.7 1710.1,501.4 1710.4,511.5 1710.7,521.2 1711.0,530.9 1711.2,541.0 1711.5,552.0 1711.9,568.7 1712.2,586.9 1712.5,606.0 1712.8,625.4 1713.1,644.3 1713.3,662.6 1713.5,680.8 1713.7,699.1 1713.9,717.7 1714.1,737.0 1714.3,759.9 1714.6,783.8 1714.8,808.1 1715.1,832.2 1715.5,855.7 1716.0,877.4 1716.5,899.3 1717.1,920.7 1717.7,941.1 1718.3,960.0 1718.6,973.2 1718.8,985.5 1719.0,997.3 1719.5,1008.7 1720.3,1020.1 1721.4,1030.6 1722.8,1041.1 1724.4,1051.4 1726.3,1061.1 1728.3,1070.2 1730.0,1076.9 1731.7,1083.2 1733.6,1089.2 1735.8,1094.9 1738.4,1100.2 1741.1,1104.7 1743.9,1109.0 1747.1,1113.0 1750.6,1116.7 1754.4,1120.2 1758.9,1123.7 1763.8,1127.0 1769.0,1129.9 1774.6,1132.4 1780.4,1134.2 1787.7,1135.4 1795.6,1135.6 1803.8,1135.2 1812.2,1134.7 1820.5,1134.2 1829.2,1133.8 1838.0,1133.2 1846.8,1132.5 1855.7,1131.8 1864.5,1131.2" stroke="#17becf"/><polyline points="994.3,1386.2 1006.9,1383.1 1019.4,1380.0 1032.0,1376.9 1044.6,1373.7 1057.1,1370.5 1069.8,1367.1 1082.7,1363.6 1095.4,1360.0 1107.9,1356.5 1119.9,1353.2 1129.7,1350.5 1139.0,1348.0 1148.1,1345.5 1157.4,1343.1 1167.0,1340.6 1178.1,1338.0 1189.5,1335.5 1201.2,1332.9 1213.0,1330.2 1225.0,1327.0 1238.6,1322.8 1252.5,1318.1 1266.6,1313.2 1280.6,1308.2 1294.3,1303.5 1307.0,1299.3 1319.6,1295.1 1332.1,1291.1 1344.6,1287.1 1357.1,1283.1 1369.8,1279.3 1382.7,1275.7 1395.5,1272.1 1408.0,1268.4 1419.9,1264.2 1429.8,1260.1 1439.2,1255.8 1448.4,1251.3 1457.6,1246.8 1467.0,1242.2 1477.5,1237.5 1488.7,1232.7 1499.6,1227.8 1509.7,1222.9 1518.1,1218.0 1522.5,1214.7 1526.1,1211.5 1529.4,1208.2 1532.7,1204.8 1536.3,1201.3 1541.0,1197.1 1546.0,1192.8 1551.1,1188.3 1556.1,1183.6 1561.0,1178.5 1566.4,1172.1 1571.7,1165.1 1576.9,1157.8 1581.8,1150.5 1586.4,1143.6 1590.0,1138.1 1593.4,1132.8 1596.6,1127.6 1599.7,1122.3 1602.7,1116.7 1605.8,1110.2 1608.7,1103.5 1611.5,1096.6 1614.4,1089.8 1617.3,1083.3 1620.2,1077.8 1623.3,1072.5 1626.3,1067.3 1629.2,1062.0 1631.7,1056.3 1633.9,1049.5 1635.8,1042.2 1637.4,1034.8 1639.0,1027.3 1640.8,1020.0 1642.9,1013.0 1645.1,1005.9 1647.4,998.9 1649.6,992.1 1651.8,985.6 1653.6,980.3 1655.3,975.4 1657.0,970.5 1658.7,965.5 1660.3,960.0 1662.3,952.5 1664.3,944.6 1666.3,936.3 1668.2,927.6 1670.0,918.5 1672.2,906.0 1674.2,892.5 1676.1,878.5 1678.1,864.9 1680.1,852.3 1681.8,842.9 1683.5,833.8 1685.3,825.1 1687.0,816.8 1688.8,808.8 1690.3,802.7 1691.8,797.1 1693.3,791.6 1694.8,786.0 1696.0,780.0 1697.2,772.6 1698.1,764.9 1698.9,757.0 1699.7,749.1 1700.5,741.5 1701.4,734.5 1702.4,727.4 1703.3,720.6 1704.1,713.9 1704.8,707.7 1705.1,703.0 1705.3,698.3 1705.5,693.9 1705.7,689.9 1706.1,686.5 1706.4,684.9 1706.7,683.5 1707.0,682.2 1707.5,681.0 1708.2,679.7 1709.4,678.1 1710.8,676.6 1712.5,675.1 1714.2,673.6 1715.8,672.1 1724.3,678.9 1734.4,677.2 1736.3,654.2 1738.2,631.1 1740.1,608.1 1742.0,585.0 1743.8,561.8 1745.7,537.5 1747.6,512.4 1749.4,487.6 1751.1,464.0 1752.5,442.5 1753.4,428.6 1754.1,415.8 1754.7,403.7 1755.3,391.7 1756.0,379.4 1760.2,379.4 1761.1,392.1 1762.1,404.7 1763.0,417.4 1763.9,430.0 1764.9,442.5 1765.8,454.5 1766.8,466.3 1767.8,478.1 1768.7,489.8 1769.6,501.4 1770.4,512.1 1771.2,522.4 1771.9,532.7 1772.6,543.4 1773.1,555.0 1773.6,571.4 1773.9,589.0 1774.0,607.4 1774.1,626.0 1774.3,644.3 1774.5,662.5 1774.7,680.7 1774.9,699.0 1775.1,717.7 1775.4,737.0 1775.8,759.8 1776.2,783.4 1776.6,807.5 1777.1,831.7 1777.6,855.7 1778.1,880.1 1778.6,905.1 1779.2,929.9 1779.8,953.4 1780.6,975.0 1781.2,989.3 1781.8,1002.6 1782.5,1015.2 1783.3,1027.6 1784.4,1040.1 1785.6,1052.5 1786.9,1065.0 1788.5,1077.2 1790.3,1089.1 1792.4,1100.2 1794.3,1109.1 1796.3,1117.9 1798.6,1126.2 1801.3,1133.8 1804.5,1140.3 1807.3,1144.3 1810.3,1147.7 1813.6,1150.7 1817.0,1153.5 1820.5,1156.3 1824.0,1159.2 1827.6,1162.0 1831.4,1164.6 1835.4,1166.8 1840.0,1168.5 1846.9,1169.7 1854.7,1169.9 1863.0,1169.6 1871.6,1169.0 1880.0,1168.5 1889.0,1168.1 1898.2,1167.5 1907.4,1166.8 1916.7,1166.1 1926.0,1165.5" stroke="#1f77b4"/></g>
<g font-family="DejaVu Sans, sans-serif" font-size="72" text-anchor="middle" fill="#000"><text x="205.4" y="358.5">6</text><text x="209.8" y="482.5">5</text><text x="213.8" y="603.6">4</text><text x="216.9" y="725.0">3</text><text x="218.8" y="846.5">2</text><text x="225.4" y="968.0">1</text><text x="311.5" y="1224.1">1000</text><text x="408.9" y="1288.2">800</text><text x="511.2" y="1358.1">600</text><text x="611.7" y="1428.2">400</text><text x="723.0" y="1500.6">200</text><text x="837.8" y="1575.2">0</text><text x="1173.6" y="1580.5">2.2</text><text x="1321.8" y="1544.2">2.4</text><text x="1468.5" y="1508.4">2.6</text><text x="1610.8" y="1474.5">2.8</text><text x="1752.1" y="1438.1">3.0</text><text x="1888.4" y="1404.8">3.2</text><text x="2026.4" y="1371.2">3.4</text></g>
<text transform="translate(24.5,83.0) rotate(88.5)" font-family="DejaVu Sans, sans-serif" font-size="72" fill="#000">Incremental Capacity [<tspan font-style="italic">AhV</tspan><tspan font-size="50.4" dy="-32">−1</tspan><tspan dy="32">]</tspan></text>
<text transform="translate(232.3,1322.6) rotate(32.6)" font-family="DejaVu Sans, sans-serif" font-size="71.1" fill="#000">Life Cycles [−]</text>
<text transform="translate(1378.1,1638.1) rotate(-13.3)" font-family="DejaVu Sans, sans-serif" font-size="72" fill="#000">Cell Voltage [V]</text>
</svg>
</body></html>
